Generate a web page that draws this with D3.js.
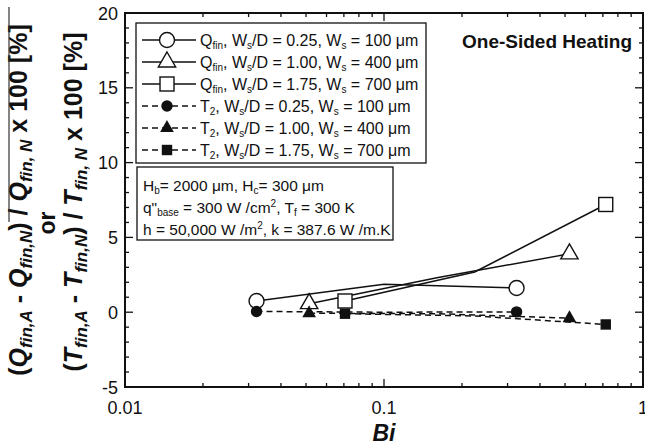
<!DOCTYPE html>
<html><head><meta charset="utf-8">
<script src="https://cdn.jsdelivr.net/npm/d3@7"></script>
<style>
body{margin:0;background:#fff;}
text{font-family:"Liberation Sans",Arial,Helvetica,sans-serif;fill:#111;}
</style></head>
<body><svg id="c" width="645" height="447"></svg>
<script>
// ---- data ----
const biQ1 = [0.0322, 0.1, 0.325];   const q1 = [0.75, 1.87, 1.62];
const biQ2 = [0.0514, 0.16, 0.52];   const q2 = [0.57, 2.3, 3.9];
const biQ3 = [0.0707, 0.224, 0.718]; const q3 = [0.75, 2.69, 7.2];
const t1 = [0.05, 0.0, 0.02];
const t2 = [-0.07, -0.1, -0.4];
const t3 = [-0.1, -0.25, -0.82];
const xTicks = [0.01, 0.1, 1];
const xTickLabels = ["0.01", "0.1", "1"];
const yTicks = [-5, 0, 5, 10, 15, 20];
const legendLabels = [
  {sym:"Q", sub:"fin", tail:", W", sub2:"s", rest:"/D = 0.25, W", sub3:"s", end:" = 100 μm"},
  {sym:"Q", sub:"fin", tail:", W", sub2:"s", rest:"/D = 1.00, W", sub3:"s", end:" = 400 μm"},
  {sym:"Q", sub:"fin", tail:", W", sub2:"s", rest:"/D = 1.75, W", sub3:"s", end:" = 700 μm"},
  {sym:"T", sub:"2", tail:", W", sub2:"s", rest:"/D = 0.25, W", sub3:"s", end:" = 100 μm"},
  {sym:"T", sub:"2", tail:", W", sub2:"s", rest:"/D = 1.00, W", sub3:"s", end:" = 400 μm"},
  {sym:"T", sub:"2", tail:", W", sub2:"s", rest:"/D = 1.75, W", sub3:"s", end:" = 700 μm"}
];

const series = [
  {x:biQ1, y:q1, shape:"circle", filled:false, dashed:false},
  {x:biQ2, y:q2, shape:"triangle", filled:false, dashed:false},
  {x:biQ3, y:q3, shape:"square", filled:false, dashed:false},
  {x:biQ1, y:t1, shape:"circle", filled:true, dashed:true},
  {x:biQ2, y:t2, shape:"triangle", filled:true, dashed:true},
  {x:biQ3, y:t3, shape:"square", filled:true, dashed:true}
];

const svg = d3.select("#c");
const L=125, R=643, T=13, B=387;
const x = d3.scaleLog().domain([0.01,1]).range([L,R]);
const y = d3.scaleLinear().domain([-5,20]).range([B,T]);

// ticks (inward)
const minorX = [];
[0.01,0.1].forEach(d=>{for(let k=2;k<=9;k++) minorX.push(d*k);});
const minorY = d3.range(-5,21,1).filter(v=>v%5!==0);
const tk = svg.append("g").attr("stroke","#111").attr("stroke-width",1.3);
minorX.forEach(v=>{
  tk.append("line").attr("x1",x(v)).attr("x2",x(v)).attr("y1",B).attr("y2",B-4);
  tk.append("line").attr("x1",x(v)).attr("x2",x(v)).attr("y1",T).attr("y2",T+4);
});
xTicks.forEach(v=>{
  tk.append("line").attr("x1",x(v)).attr("x2",x(v)).attr("y1",B).attr("y2",B-8);
  tk.append("line").attr("x1",x(v)).attr("x2",x(v)).attr("y1",T).attr("y2",T+8);
});
minorY.forEach(v=>{
  tk.append("line").attr("x1",L).attr("x2",L+4).attr("y1",y(v)).attr("y2",y(v));
  tk.append("line").attr("x1",R).attr("x2",R-4).attr("y1",y(v)).attr("y2",y(v));
});
yTicks.forEach(v=>{
  tk.append("line").attr("x1",L).attr("x2",L+8).attr("y1",y(v)).attr("y2",y(v));
  tk.append("line").attr("x1",R).attr("x2",R-8).attr("y1",y(v)).attr("y2",y(v));
});

// frame
svg.append("rect").attr("x",L).attr("y",T).attr("width",R-L).attr("height",B-T)
  .attr("fill","none").attr("stroke","#111").attr("stroke-width",2);

// tick labels
xTicks.forEach((v,i)=>{
  svg.append("text").attr("x",x(v)).attr("y",414).attr("text-anchor","middle")
    .attr("font-size",18).text(xTickLabels[i]);
});
yTicks.forEach(v=>{
  svg.append("text").attr("x",118).attr("y",y(v)+6.5).attr("text-anchor","end")
    .attr("font-size",18).text(v);
});

// axis title x
svg.append("text").attr("x",384).attr("y",441).attr("text-anchor","middle")
  .attr("font-size",23).attr("font-weight","bold").attr("font-style","italic").text("Bi");

// y axis title
function ylab(g, sym){
  const t = g.append("text").attr("font-size",25).attr("font-weight","bold").attr("text-anchor","middle");
  const sub = (s)=>t.append("tspan").attr("font-size",17).attr("dy",5).attr("font-style","italic").text(s);
  const up = (s)=>t.append("tspan").attr("dy",-5).text(s);
  t.append("tspan").text("(");
  t.append("tspan").attr("font-style","italic").text(sym);
  sub("fin,A");
  up(" - ");
  t.append("tspan").attr("font-style","italic").text(sym);
  sub("fin,N");
  up(") / ");
  t.append("tspan").attr("font-style","italic").text(sym);
  sub("fin, N");
  up(" x 100 [%]");
  return t;
}
ylab(svg.append("g").attr("transform","translate(27,200) rotate(-90)"), "Q");
ylab(svg.append("g").attr("transform","translate(82,202) rotate(-90)"), "T");
svg.append("text").attr("transform","translate(55,223) rotate(-90)").attr("text-anchor","middle")
  .attr("font-size",23).attr("font-weight","bold").text("or");
svg.append("line").attr("x1",9).attr("x2",9).attr("y1",7).attr("y2",222)
  .attr("stroke","#333").attr("stroke-width",1.2);

// symbols
function drawMarker(g, cx, cy, s){
  let m;
  if(s.shape==="circle"){
    m = g.append("circle").attr("cx",cx).attr("cy",cy).attr("r", s.filled?5:7.5);
  } else if(s.shape==="square"){
    const h = s.filled?4.5:7;
    m = g.append("rect").attr("x",cx-h).attr("y",cy-h).attr("width",2*h).attr("height",2*h);
  } else {
    const size = s.filled?55:130;
    m = g.append("path").attr("transform",`translate(${cx},${cy})`).attr("d",d3.symbol(d3.symbolTriangle, size)());
  }
  m.attr("fill", s.filled?"#111":"#fff").attr("stroke","#111").attr("stroke-width",1.4);
}

const line = d3.line().x(d=>x(d[0])).y(d=>y(d[1]));
const plot = svg.append("g");
series.forEach(s=>{
  const pts = s.x.map((v,i)=>[v,s.y[i]]);
  plot.append("path").attr("d",line(pts)).attr("fill","none").attr("stroke","#111")
    .attr("stroke-width",1.5).attr("stroke-dasharray", s.dashed?"6,4":null);
});
series.forEach(s=>{
  const n = s.x.length;
  [0,n-1].forEach(i=>drawMarker(plot, x(s.x[i]), y(s.y[i]), s));
});

// legend
const lg = svg.append("g");
lg.append("rect").attr("x",136).attr("y",23).attr("width",290).attr("height",140)
  .attr("fill","#fff").attr("stroke","#111").attr("stroke-width",1.3);
legendLabels.forEach((d,i)=>{
  const cy = 40 + i*22;
  const s = series[i];
  lg.append("line").attr("x1",142).attr("x2",196).attr("y1",cy).attr("y2",cy)
    .attr("stroke","#111").attr("stroke-width",1.5).attr("stroke-dasharray", s.dashed?"6,4":null);
  drawMarker(lg, 167, cy, s);
  const t = lg.append("text").attr("x",200).attr("y",cy+6).attr("font-size",16);
  t.append("tspan").text(d.sym);
  t.append("tspan").attr("font-size",10).attr("dy",3).text(d.sub);
  t.append("tspan").attr("dy",-3).text(d.tail);
  t.append("tspan").attr("font-size",10).attr("dy",3).text(d.sub2);
  t.append("tspan").attr("dy",-3).text(d.rest);
  t.append("tspan").attr("font-size",10).attr("dy",3).text(d.sub3);
  t.append("tspan").attr("dy",-3).text(d.end);
});

// parameter box
const pb = svg.append("g");
pb.append("rect").attr("x",137).attr("y",167).attr("width",256).attr("height",73)
  .attr("fill","#fff").attr("stroke","#111").attr("stroke-width",1.3);
function para(yy, parts){
  const t = pb.append("text").attr("x",143).attr("y",yy).attr("font-size",15.5);
  parts.forEach(p=>{
    const ts = t.append("tspan").text(p[0]);
    if(p[1]==="sub") ts.attr("font-size",10).attr("dy",3);
    else if(p[1]==="sup") ts.attr("font-size",10).attr("dy",-6);
    else if(p[1]==="back") ts.attr("dy",-3);
    else if(p[1]==="down") ts.attr("dy",6);
  });
}
para(191, [["H"],["b","sub"],["= 2000 μm, H","back"],["c","sub"],["= 300 μm","back"]]);
para(213, [["q\""],["base","sub"],[" = 300 W /cm","back"],["2","sup"],[", T","down"],["f","sub"],[" = 300 K","back"]]);
para(235, [["h = 50,000 W /m"],["2","sup"],[", k = 387.6 W /m.K","down"]]);

// annotation
svg.append("text").attr("x",632).attr("y",48).attr("text-anchor","end")
  .attr("font-size",19).attr("font-weight","bold").text("One-Sided Heating");
</script></body></html>
